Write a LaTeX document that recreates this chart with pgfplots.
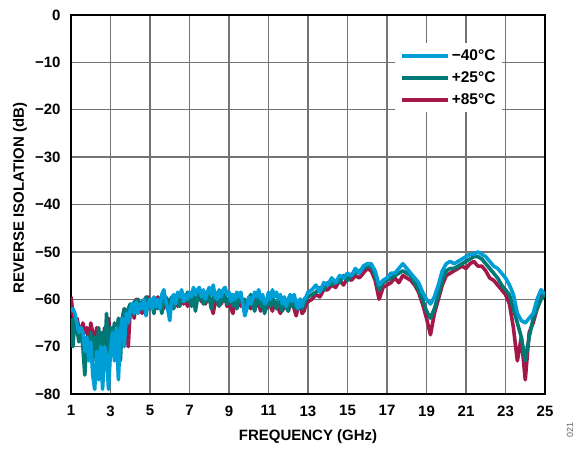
\documentclass[border=0pt]{standalone}
\usepackage{pgfplots}
\usepackage{pgfplotstable}
\pgfplotsset{compat=1.18}
\usepackage{fontspec}
\setmainfont{Liberation Sans}
\definecolor{cblue}{RGB}{0,158,214}
\definecolor{cteal}{RGB}{0,120,116}
\definecolor{cred}{RGB}{163,24,72}

\pgfplotstableread{
f b t r
1.0 -62.5 -64 -59.5
1.1 -62 -70 -63
1.2 -63 -64 -67
1.3 -65 -66 -64
1.4 -67 -69 -66
1.5 -66 -66 -68
1.6 -67 -70 -65
1.7 -71 -76 -67
1.8 -68 -68 -66
1.9 -73 -71 -70
2.0 -69 -67 -65
2.1 -76 -73 -67
2.2 -79 -68 -70
2.3 -71 -72 -66
2.4 -77 -66 -69
2.5 -70 -71 -67
2.6 -79 -67 -72
2.7 -70 -73 -66
2.8 -72 -63 -69
2.9 -79 -74 -64
3.0 -71 -66 -68
3.1 -67 -69 -66
3.2 -73 -65 -70
3.3 -66 -68 -67
3.4 -77 -64 -74
3.5 -67 -73 -66
3.6 -64 -64 -64
3.7 -70 -62 -62
3.8 -63 -66 -66
3.9 -65 -62 -70
4.0 -62 -61 -62
4.1 -61 -63 -61
4.2 -63 -60.5 -64
4.3 -60.5 -62 -60
4.4 -63 -60 -62
4.5 -61 -62 -61
4.6 -62 -60.5 -63
4.7 -60 -61 -60
4.8 -63.5 -59.5 -61
4.9 -61 -62 -59.5
5.0 -60 -60 -61
5.1 -62 -61 -60
5.2 -59.5 -63 -62
5.3 -61.5 -60 -61
5.4 -60 -62 -59.5
5.5 -62 -60.5 -61.5
5.6 -59 -63 -60
5.7 -58 -59.5 -62
5.8 -60.5 -61 -59.5
5.9 -62 -60 -61
6.0 -64.5 -61.5 -60
6.1 -60 -59.5 -62
6.2 -59 -62 -60.5
6.3 -61 -60 -59.5
6.4 -58.5 -59 -61.5
6.5 -59.5 -61.5 -60
6.6 -58 -60 -59
6.7 -60.5 -59 -61
6.8 -59 -60.5 -60
6.9 -60 -58.5 -61.5
7.0 -58.5 -60 -59.5
7.1 -59.5 -61.5 -60.5
7.2 -57.5 -59 -59
7.3 -59 -62.5 -61
7.4 -58 -60 -60
7.5 -57.5 -58.5 -59
7.6 -59.5 -59.5 -60.5
7.7 -58 -61 -59.5
7.8 -60 -59 -61
7.9 -58.5 -60.5 -60
8.0 -57.5 -59 -59.5
8.1 -59 -62 -61.5
8.2 -57 -60 -63
8.3 -59.5 -58.5 -60.5
8.4 -60 -60 -61
8.5 -58 -61.5 -59.5
8.6 -59.5 -59.5 -61
8.7 -58 -60.5 -60
8.8 -57.5 -59 -59.5
8.9 -59 -61 -61.5
9.0 -58.5 -60 -60
9.1 -60.5 -59 -62
9.2 -59 -61.5 -63
9.3 -60 -60 -60.5
9.4 -58.5 -62 -61
9.5 -59.5 -60 -60
9.6 -58.5 -59.5 -61.5
9.7 -61 -61 -60
9.8 -63.5 -60 -62
9.9 -62 -62 -61
10.0 -59.5 -60.5 -60.5
10.1 -61 -59 -62
10.2 -60 -61 -61
10.3 -58.5 -62.5 -60
10.4 -59.5 -60 -61.5
10.5 -58 -59.5 -60.5
10.6 -60 -61.5 -62.5
10.7 -59 -60 -61
10.8 -61 -63 -60.5
10.9 -60.5 -61 -62
11.0 -58.5 -60 -60.5
11.1 -60 -61.5 -61.5
11.2 -58 -59.5 -62.5
11.3 -59.5 -61 -60.5
11.4 -58.5 -62 -61
11.5 -60 -60 -62
11.6 -59 -61 -63
11.7 -61 -62.5 -61
11.8 -59.5 -60.5 -62
11.9 -61.5 -61.5 -61
12.0 -60 -62.5 -62.5
12.1 -59 -60.5 -61
12.2 -60.5 -61.5 -60.5
12.3 -59 -60 -62
12.4 -61 -62 -63.5
12.5 -62 -61 -61.5
12.6 -60 -60 -61
12.7 -61.5 -62 -63
12.8 -60 -61 -62.5
12.9 -59.5 -60 -61
13.0 -58.5 -59.5 -60.5
13.2 -58 -59 -60
13.4 -57 -58.5 -59
13.6 -58.5 -57.5 -59.5
13.8 -56.5 -58 -58
14.0 -57 -56.5 -58
14.2 -55.5 -57 -57
14.4 -56.5 -56 -57.5
14.6 -55 -56.5 -56
14.8 -55.5 -55 -57
15.0 -54.5 -56 -55.5
15.2 -55 -55 -56
15.4 -53.5 -54.5 -55
15.6 -54.5 -54 -55.5
15.8 -53 -53.5 -54.5
16.0 -52.5 -53 -53.5
16.2 -52.5 -53 -54
16.4 -54 -55 -56
16.6 -57 -58 -60
16.8 -56 -56.5 -57.5
17.0 -55.5 -56 -57
17.2 -54.5 -55.5 -56.5
17.4 -54.5 -55 -55.5
17.6 -53.5 -54.5 -56.5
17.8 -52.5 -54 -55
18.0 -53.5 -54.5 -55.5
18.2 -54.5 -55 -56
18.4 -55.5 -56.5 -57
18.6 -56.5 -58 -58.5
18.8 -58.5 -60 -61
19.0 -60 -62.5 -64
19.2 -61 -64 -67.5
19.4 -59.5 -62 -63
19.6 -57 -59 -60
19.8 -54 -56 -57
20.0 -52.5 -54 -55
20.2 -52 -53.5 -54.5
20.4 -52.5 -53.5 -54
20.6 -52 -53 -53.5
20.8 -51.5 -52.5 -53
21.0 -51 -52 -53.5
21.2 -50.5 -51.5 -52.5
21.4 -50.5 -51 -52
21.6 -50 -51 -53
21.8 -50.5 -51.5 -53
22.0 -51 -52.5 -54
22.2 -52 -53.5 -55.5
22.4 -53 -54.5 -56
22.6 -53.5 -55.5 -57
22.8 -54.5 -57 -58
23.0 -55.5 -58 -59
23.2 -57 -59 -61
23.4 -59 -62 -66
23.6 -63 -65 -73
23.8 -64.5 -68 -68
24.0 -65 -73 -77
24.2 -64 -68 -67
24.4 -63 -64 -65
24.6 -60 -62 -62
24.8 -58 -60 -59.5
25.0 -59 -59 -58.5
}\isodata

\begin{document}
\begin{tikzpicture}
\path[use as bounding box] (-71pt,-54pt) rectangle (512pt,394pt);
\begin{axis}[
  at={(0pt,0pt)}, anchor=south west,
  scale only axis, width=474pt, height=379pt,
  xmin=1, xmax=25, ymin=-80, ymax=0,
  xtick={1,3,...,25},
  xticklabels={1,3,5,7,9,11,13,15,17,19,21,23,25},
  ytick={-80,-70,...,0},
  yticklabels={−80,−70,−60,−50,−40,−30,−20,−10,0},
  major tick length=0pt,
  grid=major,
  major grid style={black!55, line width=1.3pt},
  axis line style={black, line width=1.5pt},
  tick label style={font=\bfseries\fontsize{15}{18}\selectfont},
  xticklabel style={yshift=-8pt},
  yticklabel style={xshift=-7pt},
  label style={font=\bfseries\fontsize{15}{18}\selectfont},
  xlabel={FREQUENCY (GHz)},
  ylabel={REVERSE ISOLATION (dB)},
  xlabel style={at={(axis description cs:0.5,-0.1135)}, anchor=center},
  ylabel style={at={(axis description cs:-0.1076,0.517)}, anchor=center, rotate=0},
  reverse legend,
  legend cell align=left,
  legend image code/.code={\path (0pt,0pt) -- (46pt,0pt); \draw[#1, line width=3.2pt] (0pt,0pt) -- (40pt,0pt);},
  legend style={draw=none, fill=white, at={(rel axis cs:0.6835,0.926)}, anchor=north west,
    font=\bfseries\fontsize{15.5}{18}\selectfont, row sep=5pt, inner xsep=5pt, inner ysep=4pt,
    nodes={inner sep=2pt, text height=11pt, text depth=2pt}},
  every axis plot/.append style={line width=3.6pt, line join=round},
]
\addplot[cred] table[x=f,y=r]{\isodata};
\addlegendentry{+85°C}
\addplot[cteal] table[x=f,y=t]{\isodata};
\addlegendentry{+25°C}
\addplot[cblue] table[x=f,y=b]{\isodata};
\addlegendentry{−40°C}
\end{axis}
\node[rotate=90, font=\fontsize{9}{10}\selectfont, text=black!60] at (499pt,-36pt) {021};
\end{tikzpicture}
\end{document}
